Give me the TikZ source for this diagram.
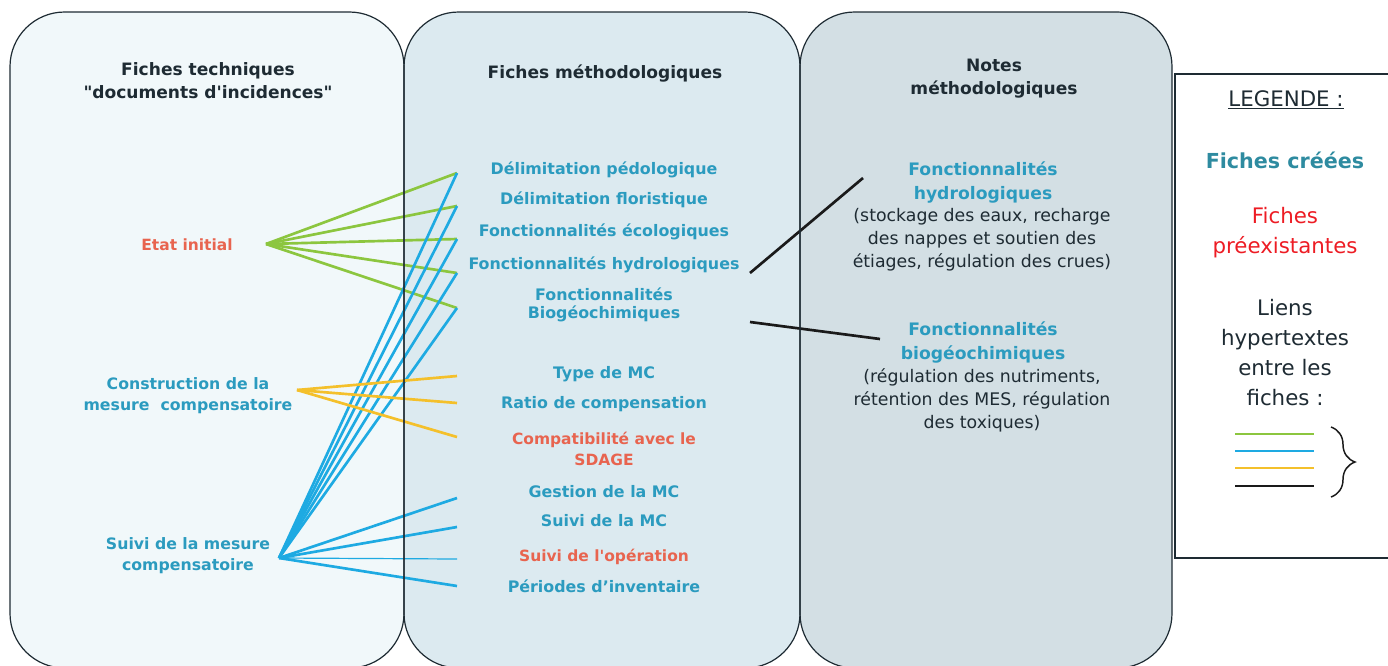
\documentclass[tikz,border=0pt]{standalone}
\usepackage{fontspec}
\setmainfont{DejaVu Sans}
\usepackage{xcolor}
\usepackage{tikz}
\usetikzlibrary{decorations.pathreplacing}

\definecolor{panA}{HTML}{F1F8FA}
\definecolor{panB}{HTML}{DCEAF0}
\definecolor{panC}{HTML}{D3DFE4}
\definecolor{darktxt}{HTML}{1E2B33}
\definecolor{ficheblue}{HTML}{2B9BBF}
\definecolor{ficheold}{HTML}{E8644F}
\definecolor{legteal}{HTML}{2E8BA0}
\definecolor{legred}{HTML}{ED1C24}
\definecolor{vert}{HTML}{8CC63F}
\definecolor{bleu}{HTML}{1EAAE2}
\definecolor{jaune}{HTML}{F4C02B}
\definecolor{noir}{HTML}{1A1A1A}

\begin{document}
\begin{tikzpicture}[x=0.75pt, y=-0.75pt,
  panel/.style = {rounded corners=41pt},
  head/.style = {font=\fontsize{12.8}{17}\selectfont\bfseries, text=darktxt, align=center},
  fiche/.style = {font=\fontsize{11.9}{14}\selectfont\bfseries, text=ficheblue, align=center, inner sep=1pt},
  ancienne/.style = {fiche, font=\fontsize{11.6}{15.8}\selectfont\bfseries, text=ficheold},
  note/.style = {font=\fontsize{13}{17.3}\selectfont, text=darktxt, align=center},
  lien/.style = {line width=2pt},
  leg/.style = {font=\fontsize{16}{22.5}\selectfont, text=darktxt, align=center}]
\useasboundingbox (0,0) rectangle (1388,665);
\clip (0,0) rectangle (1388,665);

% colonnes
\fill[panel, panA] (10,12) rectangle (404,668);
\fill[panel, panB] (404,12) rectangle (800,668);
\fill[panel, panC] (800,12) rectangle (1172,668);

% points de depart et d'arrivee des liens
\coordinate (hubEtat) at (266,244);
\coordinate (hubConst) at (297,390);
\coordinate (hubSuivi) at (279,558);
\coordinate (e1) at (457,173);
\coordinate (e2) at (457,206);
\coordinate (e3) at (457,239);
\coordinate (e4) at (457,273);
\coordinate (e5) at (457,308);
\coordinate (o1) at (457,376);
\coordinate (o2) at (457,403);
\coordinate (o3) at (457,437);
\coordinate (g1) at (457,498);
\coordinate (g2) at (457,527);
\coordinate (g3) at (457,559);
\coordinate (g4) at (457,586);
\coordinate (hyA) at (750,273);
\coordinate (hyB) at (863,178);
\coordinate (biA) at (750,322);
\coordinate (biB) at (880,339);

\foreach \i in {1,...,5} \draw[lien, vert] (hubEtat) -- (e\i);
\foreach \i in {1,...,5} \draw[lien, bleu] (hubSuivi) -- (e\i);
\foreach \i in {1,...,3} \draw[lien, jaune] (hubConst) -- (o\i);
\foreach \i in {1,2,4} \draw[lien, bleu] (hubSuivi) -- (g\i);
\draw[bleu, line width=0.9pt] (hubSuivi) -- (g3);
\draw[lien, noir] (hyA) -- (hyB);
\draw[lien, noir] (biA) -- (biB);

\draw[panel, darktxt, line width=0.9pt] (10,12) rectangle (404,668);
\draw[panel, darktxt, line width=0.9pt] (404,12) rectangle (800,668);
\draw[panel, darktxt, line width=0.9pt] (800,12) rectangle (1172,668);

% titres
\node[head] (ftech) at (208,80.5) {Fiches techniques\\\textquotedbl documents d\textquotesingle incidences\textquotedbl};
\node[head] (fmeth) at (605,74) {Fiches méthodologiques};
\node[head] (nmeth) at (994,78.5) {Notes\\méthodologiques};

% fiches techniques
\node[ancienne] (etat) at (187,245) {Etat initial};
\node[fiche, font=\fontsize{11.8}{15.8}\selectfont\bfseries] (constr) at (188,395.5) {Construction de la\\mesure\ \ compensatoire};
\node[fiche, font=\fontsize{11.8}{15.8}\selectfont\bfseries] (suivi) at (188,555.5) {Suivi de la mesure\\compensatoire};

% fiches methodologiques
\node[fiche] (pedo) at (604,170) {Délimitation pédologique};
\node[fiche] (flor) at (604,200) {Délimitation floristique};
\node[fiche] (eco) at (604,232) {Fonctionnalités écologiques};
\node[fiche] (hydro) at (604,265) {Fonctionnalités hydrologiques};
\node[fiche] (biogeo) at (604,305) {Fonctionnalités\\Biogéochimiques};
\node[fiche] (type) at (604,374) {Type de MC};
\node[fiche] (ratio) at (604,404) {Ratio de compensation};
\node[ancienne] (sdage) at (604,448.5) {Compatibilité avec le\\SDAGE};
\node[fiche] (gestion) at (604,492) {Gestion de la MC};
\node[fiche] (suivimc) at (604,521) {Suivi de la MC};
\node[ancienne] (operation) at (604,557) {Suivi de l\textquotesingle opération};
\node[fiche] (periodes) at (604,586) {Périodes d’inventaire};

% notes methodologiques
\node[fiche, font=\fontsize{12.9}{17.3}\selectfont\bfseries] (nhydro) at (983,182.5) {Fonctionnalités\\hydrologiques};
\node[note] (nhydrotxt) at (982,239.5) {(stockage des eaux, recharge\\des nappes et soutien des\\étiages, régulation des crues)};
\node[fiche, font=\fontsize{12.9}{17.3}\selectfont\bfseries] (nbio) at (983,342.5) {Fonctionnalités\\biogéochimiques};
\node[note] (nbiotxt) at (982,400.5) {(régulation des nutriments,\\rétention des MES, régulation\\des toxiques)};

% legende
\draw[darktxt, line width=1.5pt] (1175,74) rectangle (1392,558);
\node[leg] (legtitre) at (1286,100) {\underline{LEGENDE :}};
\node[leg, font=\fontsize{15.5}{20}\selectfont\bfseries, text=legteal] (legcree) at (1285,160) {Fiches créées};
\node[leg, text=legred] (legpre) at (1285,233) {Fiches\\préexistantes};
\node[leg] (legliens) at (1285,352.5) {Liens\\hypertextes\\entre les\\fiches :};
\foreach \c/\y in {vert/434, bleu/451, jaune/468, noir/486}
  \draw[\c, line width=1.4pt] (1235,\y) -- (1314,\y);
\draw[noir, line width=1.1pt, decorate, decoration={brace, amplitude=18pt}] (1331,427) -- (1331,497);
\end{tikzpicture}
\end{document}
